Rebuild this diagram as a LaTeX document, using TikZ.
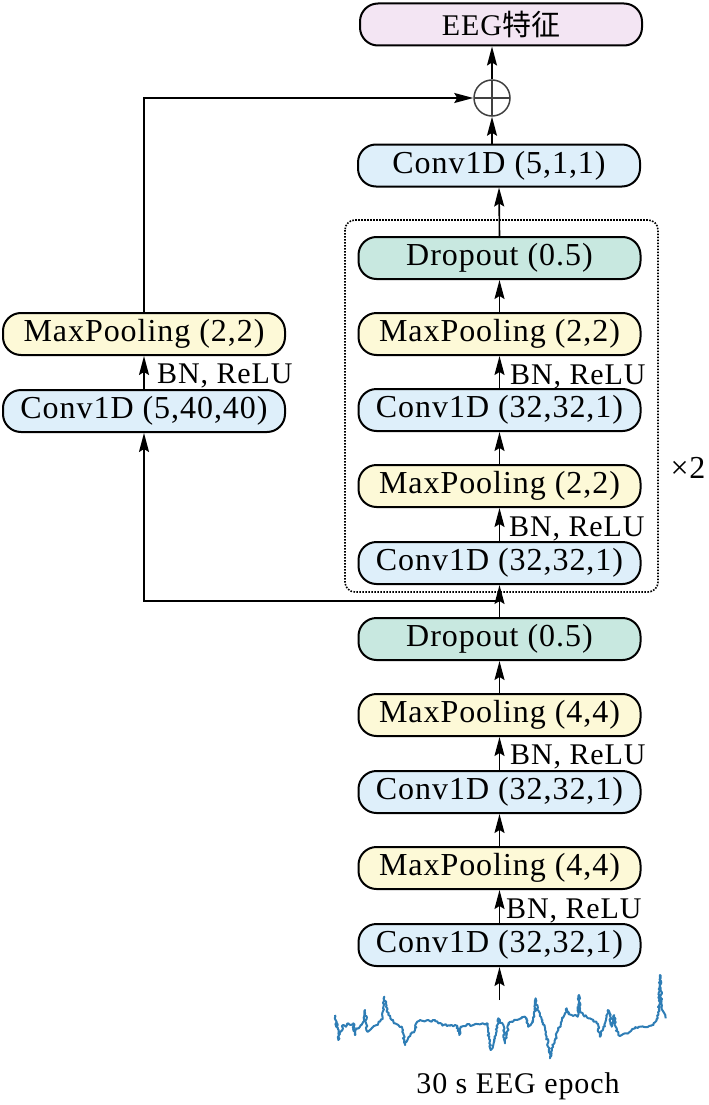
\documentclass[tikz,border=0pt]{standalone}
\usepackage{fontspec}
\setmainfont{Liberation Serif}
\newfontfamily\lsp[LetterSpace=3]{Liberation Serif}
\newfontfamily\lspb[LetterSpace=3]{Liberation Serif}
\newfontfamily\cjk{Noto Sans CJK SC}
\usetikzlibrary{arrows.meta,decorations.pathmorphing}
\definecolor{convc}{RGB}{222,239,250}
\definecolor{poolc}{RGB}{253,249,215}
\definecolor{dropc}{RGB}{200,232,224}
\definecolor{outc}{RGB}{243,229,243}
\definecolor{sigc}{RGB}{46,125,181}
\tikzset{arrtip/.tip={Stealth[length=19pt,width=10pt,inset=3pt]}}
\begin{document}
\begin{tikzpicture}[x=1pt,y=-1pt,
  blk/.style={draw=black, line width=2pt, rounded corners=18pt, minimum width=282pt, minimum height=42pt, inner sep=0pt, font=\lsp\fontsize{32}{34}\selectfont},
  conv/.style={blk, fill=convc},
  pool/.style={blk, fill=poolc},
  drop/.style={blk, fill=dropc},
  outbox/.style={blk, fill=outc, font=\lsp\fontsize{30}{32}\selectfont},
  arr/.style={line width=1.6pt, -arrtip},
  lbl/.style={anchor=base west, inner sep=0pt, font=\lsp\fontsize{30}{32}\selectfont},
  frame/.style={line width=1.6pt, dash pattern=on 1.6pt off 1.4pt, rounded corners=10pt},
]
\useasboundingbox (0,0) rectangle (709,1105);

% right column
\node[outbox] (out) at (501,24.5) {EEG{\cjk\fontsize{29}{31}\selectfont 特征}};
\node[draw=black!75, circle, minimum size=36pt, inner sep=0pt, line width=1.5pt,
  path picture={\draw[line width=1.5pt, black!75] (path picture bounding box.north) -- (path picture bounding box.south) (path picture bounding box.west) -- (path picture bounding box.east);}] (oplus) at (492,98) {};
\node[conv] (c511) at (499,165.5) {Conv1D (5,1,1)};

\node[drop] (d2) at (499.5,258) {Dropout (0.5)};
\node[pool] (p4) at (499.5,334) {MaxPooling (2,2)};
\node[conv] (c4) at (499.5,410) {Conv1D (32,32,1)};
\node[pool] (p3) at (499.5,486) {MaxPooling (2,2)};
\node[conv] (c3) at (499.5,563) {Conv1D (32,32,1)};
\node[drop] (d1) at (499.5,639) {Dropout (0.5)};
\node[pool] (p2) at (499.5,715) {MaxPooling (4,4)};
\node[conv] (c2) at (499.5,792) {Conv1D (32,32,1)};
\node[pool] (p1) at (499.5,868) {MaxPooling (4,4)};
\node[conv] (c1) at (499.5,945) {Conv1D (32,32,1)};

% repeated block frame
\draw[frame] (345,220) rectangle (658,592);
\node[font=\lsp\fontsize{32}{34}\selectfont, inner sep=0pt] (rep) at (688,468) {×2};

% left column
\node[pool] (pL) at (144,334) {MaxPooling (2,2)};
\node[conv] (cL) at (144,411) {Conv1D (5,40,40)};

% labels
\node[lbl] (bnL) at (157,383) {BN, ReLU};
\node[lbl] (bn4) at (510,384) {BN, ReLU};
\node[lbl] (bn3) at (509,536) {BN, ReLU};
\node[lbl] (bn2) at (510,764) {BN, ReLU};
\node[lbl] (bn1) at (506,918) {BN, ReLU};

% connectors
\coordinate (sigtop) at (499.5,1000);
\coordinate (split) at (499.5,601);
\draw[arr] (sigtop) -- (c1.south);
\draw[arr] (c1.north) -- (p1.south);
\draw[arr] (p1.north) -- (c2.south);
\draw[arr] (c2.north) -- (p2.south);
\draw[arr] (p2.north) -- (d1.south);
\draw[arr] (d1.north) -- (c3.south);
\draw[arr] (c3.north) -- (p3.south);
\draw[arr] (p3.north) -- (c4.south);
\draw[arr] (c4.north) -- (p4.south);
\draw[arr] (p4.north) -- (d2.south);
\draw[arr] (d2.north) -- (c511.south);
\draw[arr] (oplus |- c511.north) -- (oplus.south);
\draw[arr] (oplus.north) -- (oplus |- out.south);
\draw[arr] (split) -| (cL.south);
\draw[arr] (cL.north) -- (pL.south);
\draw[arr] (pL.north) |- (oplus.west);

% EEG signal
\pgfmathsetseed{7}
\begin{scope}[shift={(330,965)}, x=0.3333pt, y=-0.3333pt]
\draw[sigc, line width=2pt, line join=round, decorate, decoration={random steps, segment length=1.5pt, amplitude=1.1pt}]
plot coordinates {(15,150) (18,185) (22,175) (25,225) (32,200) (40,180) (48,185) (55,175) (62,180) (70,175) (75,210) (80,190) (90,185) (100,170) (105,135) (110,180) (112,200) (120,195) (130,185) (140,180) (150,170) (158,160) (163,95) (168,125) (175,150) (185,165) (195,175) (205,180) (215,185) (220,205) (225,240) (230,230) (238,215) (245,205) (255,195) (262,170) (270,165) (280,168) (295,165) (305,170) (315,165) (325,175) (340,180) (360,182) (375,180) (385,190) (388,210) (392,185) (410,180) (430,180) (450,178) (470,175) (475,190) (478,235) (482,255) (490,240) (500,200) (505,160) (510,170) (520,180) (525,235) (530,210) (535,175) (545,170) (560,165) (575,160) (585,155) (590,160) (595,185) (605,175) (613,155) (617,100) (622,130) (630,150) (640,175) (650,215) (657,260) (660,280) (665,250) (675,225) (685,195) (695,170) (705,145) (710,130) (715,145) (725,150) (735,150) (743,155) (747,90) (751,140) (760,150) (775,160) (790,165) (800,175) (805,190) (810,215) (820,190) (830,155) (835,135) (840,150) (845,185) (850,160) (853,150) (857,185) (865,210) (875,210) (885,205) (895,205) (905,195) (915,190) (935,185) (955,185) (970,180) (980,165) (985,150) (990,30) (995,130) (1000,140) (1007,160)};
\end{scope}
\node[font=\lspb\fontsize{30}{32}\selectfont, anchor=base, inner sep=0pt] (cap) at (518,1093) {30 s EEG epoch};
\end{tikzpicture}
\end{document}
